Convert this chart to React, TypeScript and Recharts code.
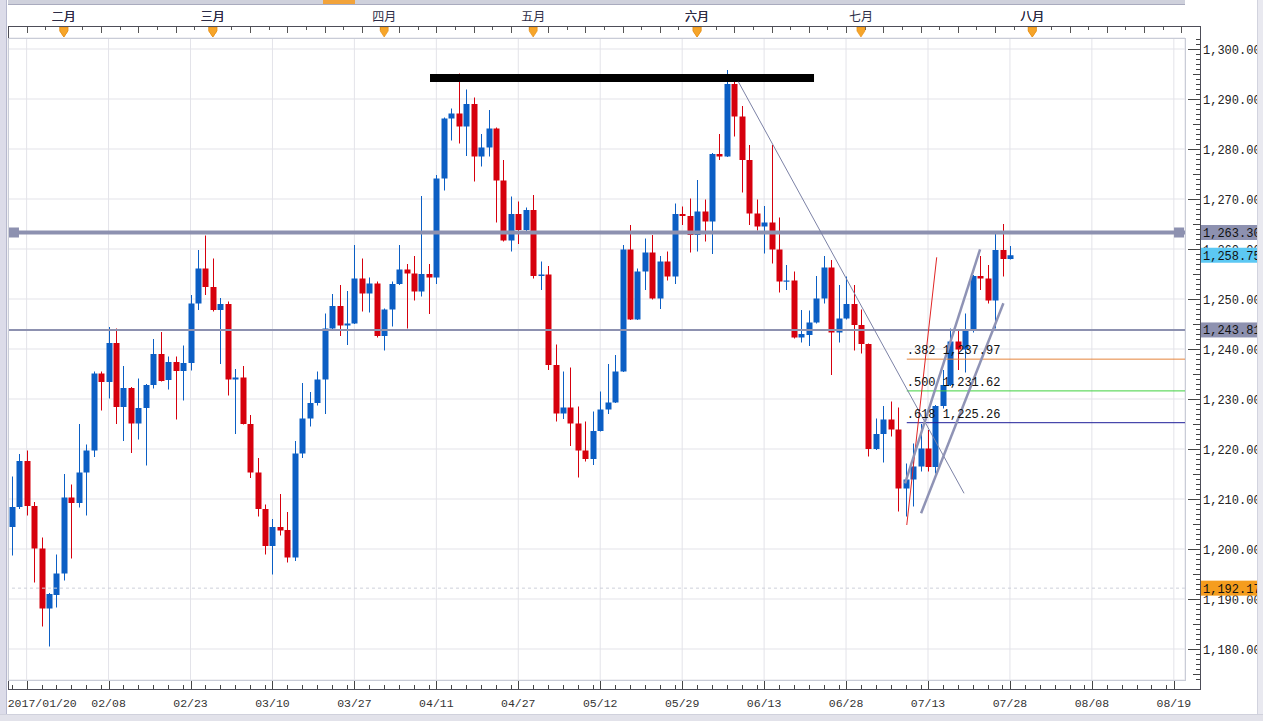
import React from 'react';
import { ComposedChart, Bar, XAxis, YAxis, CartesianGrid, ReferenceLine, ReferenceDot } from 'recharts';

// daily candles 2017/01/20 .. 2017/07/28
const opens = [
  1204.4, 1208.4, 1217.6, 1208.6, 1200.1, 1188.1, 1190.8, 1195.1, 1210.3, 1209.2,
  1215.3, 1219.7, 1235.1, 1233.4, 1241.2, 1228.4, 1232.2, 1225.1, 1228.2, 1232.8,
  1239.0, 1233.8, 1237.4, 1235.6, 1237.2, 1249.1, 1256.1, 1252.4, 1247.8, 1249.0,
  1233.9, 1234.3, 1225.0, 1215.3, 1208.0, 1200.6, 1204.4, 1203.8, 1198.3, 1219.1,
  1226.1, 1229.2, 1233.9, 1244.1, 1248.6, 1244.7, 1245.1, 1254.1, 1251.1, 1253.1,
  1242.6, 1247.9, 1253.0, 1255.9, 1255.1, 1251.5, 1255.0, 1254.3, 1274.1, 1286.1,
  1287.1, 1284.5, 1289.0, 1278.5, 1280.3, 1284.1, 1273.7, 1261.7, 1267.0, 1263.8,
  1267.8, 1254.6, 1254.9, 1236.8, 1227.1, 1228.3, 1225.1, 1219.7, 1218.0, 1223.6,
  1227.9, 1229.3, 1235.5, 1259.9, 1245.9, 1255.5, 1259.3, 1250.1, 1257.5, 1254.5,
  1267.0, 1266.6, 1262.8, 1267.5, 1265.5, 1279.0, 1278.5, 1293.0, 1286.5, 1277.8,
  1267.1, 1264.5, 1265.3, 1259.9, 1253.5, 1253.7, 1242.3, 1242.8, 1245.3, 1250.1,
  1256.3, 1243.3, 1246.1, 1249.0, 1244.8, 1241.0, 1220.0, 1223.0, 1225.9, 1223.9,
  1212.1, 1213.9, 1216.5, 1220.1, 1216.4, 1228.6, 1232.8, 1241.5, 1239.9, 1243.7,
  1254.6, 1254.1, 1249.7, 1259.8, 1258.0,
];
const highs = [
  1214.5, 1219.0, 1219.7, 1209.4, 1202.3, 1191.2, 1198.9, 1215.0, 1212.9, 1225.0,
  1220.9, 1235.5, 1235.5, 1244.4, 1244.1, 1236.6, 1232.4, 1234.1, 1233.0, 1242.0,
  1243.4, 1238.5, 1238.5, 1240.7, 1250.8, 1259.8, 1262.7, 1258.1, 1250.2, 1249.5,
  1236.0, 1236.6, 1226.8, 1218.2, 1208.9, 1206.0, 1211.0, 1207.4, 1221.6, 1233.2,
  1231.4, 1235.5, 1247.1, 1251.0, 1252.8, 1251.6, 1260.8, 1258.1, 1254.3, 1253.5,
  1248.1, 1253.5, 1260.8, 1257.0, 1258.6, 1270.6, 1257.0, 1274.8, 1286.3, 1288.1,
  1295.1, 1291.9, 1290.3, 1283.0, 1287.8, 1284.3, 1277.8, 1270.5, 1269.5, 1268.3,
  1270.8, 1257.5, 1256.6, 1240.9, 1235.5, 1236.3, 1228.5, 1225.5, 1227.5, 1231.5,
  1237.0, 1238.8, 1260.8, 1264.8, 1256.1, 1262.1, 1262.8, 1258.6, 1259.5, 1269.1,
  1268.5, 1270.1, 1273.8, 1269.9, 1279.2, 1283.0, 1295.8, 1293.5, 1288.6, 1280.8,
  1269.9, 1268.6, 1280.8, 1266.3, 1256.8, 1255.5, 1247.8, 1247.7, 1254.6, 1258.6,
  1257.8, 1252.8, 1254.5, 1252.8, 1247.9, 1241.1, 1226.1, 1228.6, 1229.5, 1228.3,
  1217.1, 1221.1, 1225.0, 1223.8, 1228.8, 1235.8, 1244.1, 1243.8, 1247.1, 1254.8,
  1258.6, 1256.8, 1263.1, 1265.0, 1260.6,
];
const lows = [
  1198.7, 1208.0, 1206.7, 1193.3, 1184.5, 1180.5, 1188.3, 1193.7, 1198.1, 1208.3,
  1206.7, 1218.4, 1227.7, 1230.1, 1225.0, 1221.6, 1219.2, 1221.9, 1216.7, 1232.1,
  1233.5, 1231.9, 1225.9, 1229.7, 1235.7, 1247.8, 1250.8, 1247.5, 1237.0, 1230.7,
  1223.0, 1224.9, 1214.2, 1206.5, 1198.9, 1194.9, 1202.7, 1197.3, 1197.6, 1218.2,
  1224.5, 1228.7, 1227.0, 1244.0, 1242.6, 1240.8, 1245.0, 1247.5, 1247.3, 1242.3,
  1239.7, 1244.5, 1252.8, 1244.1, 1249.7, 1250.5, 1247.0, 1253.0, 1271.7, 1281.7,
  1281.1, 1278.6, 1273.5, 1276.5, 1278.5, 1265.3, 1261.5, 1259.5, 1261.0, 1263.5,
  1254.1, 1251.8, 1235.8, 1225.5, 1226.0, 1220.6, 1214.3, 1217.5, 1216.8, 1223.5,
  1227.0, 1229.2, 1235.4, 1245.8, 1245.8, 1251.8, 1249.9, 1248.0, 1253.7, 1253.0,
  1264.8, 1259.3, 1259.5, 1261.5, 1259.0, 1277.8, 1278.4, 1282.5, 1271.3, 1264.8,
  1263.7, 1259.1, 1257.1, 1251.3, 1251.8, 1242.1, 1241.3, 1240.6, 1245.1, 1249.1,
  1234.8, 1241.3, 1245.9, 1239.7, 1239.1, 1218.5, 1219.8, 1217.3, 1222.5, 1207.5,
  1206.5, 1208.5, 1215.5, 1215.5, 1215.1, 1228.1, 1232.6, 1235.8, 1235.3, 1243.3,
  1251.8, 1249.1, 1244.1, 1254.5, 1257.9,
];
const closes = [
  1208.4, 1217.6, 1208.6, 1200.1, 1188.1, 1191.0, 1195.1, 1210.3, 1209.2, 1215.3,
  1219.7, 1235.1, 1233.4, 1241.2, 1228.4, 1232.2, 1225.1, 1228.2, 1232.8, 1239.0,
  1233.6, 1237.4, 1235.6, 1237.2, 1249.1, 1256.1, 1252.4, 1247.8, 1249.0, 1233.9,
  1234.3, 1225.0, 1215.3, 1208.0, 1200.6, 1204.4, 1203.7, 1198.3, 1219.1, 1226.1,
  1229.2, 1233.9, 1244.1, 1248.6, 1244.7, 1245.1, 1254.1, 1251.1, 1253.1, 1242.6,
  1247.9, 1253.0, 1255.9, 1255.1, 1251.5, 1255.0, 1254.3, 1274.1, 1286.1, 1287.1,
  1284.5, 1289.0, 1278.5, 1280.3, 1284.1, 1273.7, 1261.7, 1267.0, 1263.8, 1267.8,
  1254.6, 1254.9, 1236.8, 1227.1, 1228.3, 1225.1, 1219.7, 1218.0, 1223.6, 1227.9,
  1229.3, 1235.5, 1259.9, 1245.9, 1255.5, 1259.3, 1250.1, 1257.5, 1254.5, 1267.0,
  1266.6, 1262.8, 1267.5, 1265.5, 1279.0, 1278.5, 1293.0, 1286.5, 1277.8, 1267.1,
  1264.5, 1265.3, 1259.9, 1253.5, 1253.7, 1242.3, 1243.0, 1245.3, 1250.1, 1256.3,
  1243.3, 1246.1, 1249.0, 1244.8, 1241.0, 1220.0, 1223.0, 1225.9, 1223.9, 1212.1,
  1213.9, 1216.5, 1220.1, 1216.4, 1228.6, 1232.8, 1241.5, 1239.9, 1243.7, 1254.6,
  1254.1, 1249.7, 1259.8, 1258.0, 1258.75,
];

const dateLabels = [
  '2017/01/20', '02/08', '02/23', '03/10', '03/27', '04/11', '04/27', '05/12',
  '05/29', '06/13', '06/28', '07/13', '07/28', '08/08', '08/19',
];
const monthLabels = ['二月', '三月', '四月', '五月', '六月', '七月', '八月'];
const monthSlots = [7, 27, 50, 70, 92, 114, 137];

// price flags on the right axis: resistance, last, support, low mark
const flagPrices = [1263.3, 1258.75, 1243.81, 1192.17];
const flagColors = ['#8d91b0', '#5cc8f3', '#8d91b0', '#f59d1e'];

const fibRatios = ['.382', '.500', '.618'];
const fibPrices = [1237.97, 1231.62, 1225.26];
const fibColors = ['#e5843c', '#3fd23f', '#1e1e98'];

const SLOTS = 158;
const Y_DOMAIN: [number, number] = [1173.8, 1302.2];
const X_DOMAIN: [number, number] = [-0.5, SLOTS - 0.5];

const BLUE = '#0b5ec4';
const RED = '#d6000d';
const MONO = "'Liberation Mono', 'DejaVu Sans Mono', monospace";
const CJK = "'Noto Sans CJK SC', 'Noto Sans', sans-serif";

const data = Array.from({ length: SLOTS }, (_, i) =>
  i < opens.length
    ? { slot: i, open: opens[i], high: highs[i], low: lows[i], close: closes[i] }
    : { slot: i }
);

const gridSlots = dateLabels.map((_, k) => 2 + 11 * k);
const labelSlot = (k: number) => (k === 0 ? 0 : 2 + 11 * k);

const bottomTicks: number[] = [];
for (let s = 0; s < SLOTS; s++) {
  if (s === 0 || (s >= 2 && (s - 2) % 11 % 2 === 0)) bottomTicks.push(s);
}
const topTicks: number[] = [];
for (let t = -0.5; t < SLOTS - 0.5; t += 2.5) topTicks.push(t);
monthSlots.forEach((m) => topTicks.push(m));

const gridPrices: number[] = [];
for (let p = 1180; p <= 1300; p += 10) gridPrices.push(p);
const rightTicks: number[] = [];
for (let p = 1174; p <= 1302; p++) rightTicks.push(p);
flagPrices.forEach((p) => rightTicks.push(p));

const fmt = (v: number) =>
  v.toLocaleString('en-US', { minimumFractionDigits: 2, maximumFractionDigits: 2 });

const Candle = (props: any) => {
  const { x, y, width, height, index } = props;
  const d = props.payload && props.payload.slot != null ? props.payload : data[index];
  if (!d || d.open == null || !isFinite(y) || !isFinite(height)) return null;
  const top = Math.min(y, y + height);
  const h = Math.abs(height);
  const ppu = h / (d.high - d.low);
  const yOf = (v: number) => top + (d.high - v) * ppu;
  const cx = Math.round(x + width / 2);
  const color = d.close >= d.open ? BLUE : RED;
  const bTop = yOf(Math.max(d.open, d.close));
  const bH = Math.max(1.2, yOf(Math.min(d.open, d.close)) - bTop);
  return (
    <g>
      <line x1={cx + 0.5} x2={cx + 0.5} y1={top} y2={top + h} stroke={color} strokeWidth={1} />
      <rect x={cx - 2.5} y={bTop} width={6} height={bH} fill={color} />
    </g>
  );
};

const RightTick = (props: any) => {
  const { x, y, payload } = props;
  const v = payload.value;
  const f = flagPrices.indexOf(v);
  if (f >= 0) {
    return (
      <g>
        <rect x={x + 16} y={y - 7.5} width={62} height={15} fill={flagColors[f]} />
        <text x={x + 18} y={y + 4.5} fontFamily={MONO} fontSize={12} fill="#111">{fmt(v)}</text>
      </g>
    );
  }
  const len = v % 10 === 0 ? 12 : v % 5 === 0 ? 7 : 4;
  const yy = Math.round(y) + 0.5;
  return (
    <g>
      <line x1={x + 15 - len} x2={x + 15} y1={yy} y2={yy} stroke="#444" />
      {v % 10 === 0 && (
        <text x={x + 18} y={y + 4.5} fontFamily={MONO} fontSize={12} fill="#222">{fmt(v)}</text>
      )}
    </g>
  );
};

const BottomTick = (props: any) => {
  const { x, y, payload } = props;
  const v = payload.value;
  const major = v >= 2 && (v - 2) % 11 === 0;
  const k = dateLabels.findIndex((_, j) => labelSlot(j) === v);
  const xx = Math.round(x) + 0.5;
  return (
    <g>
      <line x1={xx} x2={xx} y1={major ? y : y + 5} y2={y + 9} stroke="#444" />
      {k >= 0 && (
        <text
          x={k === 0 ? x - 4 : x}
          y={y + 27}
          textAnchor={k === 0 ? 'start' : 'middle'}
          fontFamily={MONO}
          fontSize={11.5}
          fill="#333"
        >
          {dateLabels[k]}
        </text>
      )}
    </g>
  );
};

const TopTick = (props: any) => {
  const { x, y, payload } = props;
  const v = payload.value;
  const lineY = y - 12;
  const m = monthSlots.indexOf(v);
  if (m >= 0) {
    return (
      <g>
        <text x={x} y={lineY - 5} textAnchor="middle" fontFamily={CJK} fontSize={12} fill="#2c2c46">
          {monthLabels[m]}
        </text>
        <polygon
          points={`${x - 4},${lineY + 1} ${x + 4},${lineY + 1} ${x + 4},${lineY + 5} ${x},${lineY + 11} ${x - 4},${lineY + 5}`}
          fill="#f6a52a"
          stroke="#e58c10"
          strokeWidth={0.6}
        />
      </g>
    );
  }
  const long = Math.round((v + 0.5) / 2.5) % 2 === 1;
  const xx = Math.round(x) + 0.5;
  return <line x1={xx} x2={xx} y1={lineY} y2={lineY + (long ? 7 : 4)} stroke="#555" />;
};

const Square = (props: any) => (
  <rect x={props.cx - 5} y={props.cy - 5} width={10} height={10} fill="#8d91b0" />
);

const fibLabel = (k: number) => (props: any) => (
  <text x={props.cx} y={props.cy - 5} fontFamily={MONO} fontSize={12} fill="#111">
    {`${fibRatios[k]} ${fmt(fibPrices[k])}`}
  </text>
);

const ax = { xAxisId: 'num', yAxisId: 'price' } as const;

export default function App() {
  return (
    <div style={{ position: 'absolute', left: 0, top: 0, width: 1263, height: 721, background: '#fff', overflow: 'hidden' }}>
      <ComposedChart width={1263} height={721} data={data} margin={{ top: 0, right: 0, left: 8, bottom: 0 }}>
        <XAxis
          xAxisId="num"
          dataKey="slot"
          type="number"
          domain={X_DOMAIN}
          allowDataOverflow
          ticks={bottomTicks}
          interval={0}
          height={41}
          tickSize={0}
          tickMargin={0}
          axisLine={false}
          tickLine={false}
          tick={<BottomTick />}
        />
        <XAxis
          xAxisId="top"
          orientation="top"
          dataKey="slot"
          type="number"
          domain={X_DOMAIN}
          allowDataOverflow
          ticks={topTicks}
          interval={0}
          height={38}
          tickSize={0}
          tickMargin={0}
          axisLine={false}
          tickLine={false}
          tick={<TopTick />}
        />
        <XAxis xAxisId="cat" dataKey="slot" type="category" hide height={0} />
        <XAxis xAxisId="grid" dataKey="slot" type="number" domain={X_DOMAIN} allowDataOverflow ticks={gridSlots} hide height={0} />
        <YAxis
          yAxisId="price"
          orientation="right"
          type="number"
          domain={Y_DOMAIN}
          allowDataOverflow
          ticks={rightTicks}
          interval={0}
          width={78}
          tickSize={0}
          tickMargin={0}
          axisLine={false}
          tickLine={false}
          tick={<RightTick />}
        />
        <YAxis yAxisId="grid" type="number" domain={Y_DOMAIN} allowDataOverflow ticks={gridPrices} hide width={0} />
        <CartesianGrid xAxisId="grid" yAxisId="grid" stroke="#e3e3e9" />
        <ReferenceLine {...ax} y={1192.17} stroke="#cdd0da" strokeDasharray="3 3" />

        <Bar
          xAxisId="cat"
          yAxisId="price"
          dataKey={(d: any) => (d.open != null ? [d.low, d.high] : null)}
          shape={(p: any) => <Candle {...p} />}
          isAnimationActive={false}
        />

        <ReferenceLine {...ax} y={1243.81} stroke="#8d91b0" strokeWidth={2} />
        <ReferenceLine {...ax} y={1263.3} stroke="#8d91b0" strokeWidth={4} />
        <ReferenceDot {...ax} x={0.3} y={1263.3} shape={Square} />
        <ReferenceDot {...ax} x={156.7} y={1263.3} shape={Square} />

        <ReferenceLine {...ax} ifOverflow="visible" segment={[{ x: 56.15, y: 1294.2 }, { x: 107.7, y: 1294.2 }]} stroke="#000" strokeWidth={8} />

        {fibPrices.map((p, k) => (
          <ReferenceLine
            key={`fib${k}`}
            {...ax}
            ifOverflow="visible"
            segment={[{ x: 120.15, y: p }, { x: 157.5, y: p }]}
            stroke={fibColors[k]}
            strokeWidth={1}
          />
        ))}

        <ReferenceLine {...ax} ifOverflow="visible" segment={[{ x: 97.54, y: 1293.46 }, { x: 127.84, y: 1211.14 }]} stroke="#7c82a6" strokeWidth={1} />
        <ReferenceLine {...ax} ifOverflow="visible" segment={[{ x: 120.15, y: 1204.8 }, { x: 124.17, y: 1258.34 }]} stroke="#e02525" strokeWidth={1} />
        <ReferenceLine {...ax} ifOverflow="visible" segment={[{ x: 119.92, y: 1213.14 }, { x: 129.99, y: 1259.94 }]} stroke="#8f93b5" strokeWidth={2.5} />
        <ReferenceLine {...ax} ifOverflow="visible" segment={[{ x: 122.07, y: 1207.14 }, { x: 133.12, y: 1249.14 }]} stroke="#8f93b5" strokeWidth={2.5} />

        {fibPrices.map((p, k) => (
          <ReferenceDot key={`fl${k}`} {...ax} x={120.15} y={p} shape={fibLabel(k)} />
        ))}
      </ComposedChart>

      {/* window chrome and frames */}
      <div style={{ position: 'absolute', left: 0, top: 0, width: 6, height: 721, background: '#dcdce9', borderRight: '1px solid #b7b9ce' }} />
      <div style={{ position: 'absolute', left: 8, top: 0, width: 1177, height: 4, background: '#cfd1dc', borderBottom: '1px solid #a9abbe' }} />
      <div style={{ position: 'absolute', left: 323, top: 0, width: 32, height: 4, background: '#f2a33a' }} />
      <div style={{ position: 'absolute', left: 1257, top: 0, width: 6, height: 721, background: '#e9e9f0', borderLeft: '1px solid #d2d3de' }} />
      <div style={{ position: 'absolute', left: 0, top: 714, width: 1263, height: 7, background: '#e2e2ea', borderTop: '1px solid #d0d1dc' }} />
      <div style={{ position: 'absolute', left: 8, top: 26, width: 1193, height: 664, boxSizing: 'border-box', border: '1px solid #4d4d58', pointerEvents: 'none' }} />
      <div style={{ position: 'absolute', left: 8, top: 38, width: 1178, height: 643, boxSizing: 'border-box', border: '1px solid #c9ccd7', pointerEvents: 'none' }} />
    </div>
  );
}
